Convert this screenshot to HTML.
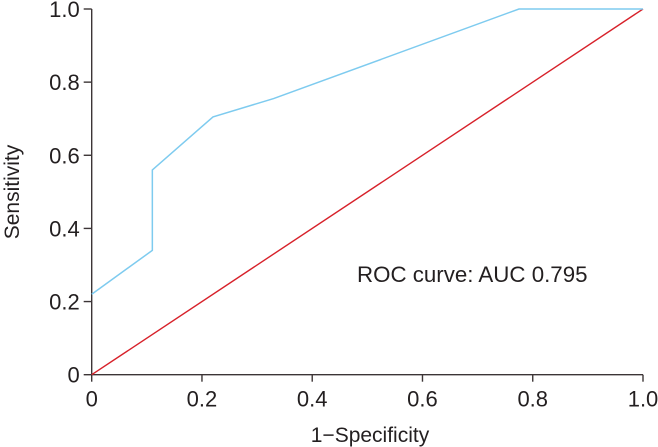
<!DOCTYPE html>
<html><head><meta charset="utf-8"><style>
body{margin:0;background:#fff;}
svg{display:block;font-family:"Liberation Sans",Arial,sans-serif;}
</style></head><body>
<svg width="658" height="447">
<g id="axes"></g>
<g id="marks"></g>
<text x="357" y="282" font-size="22.3" fill="#231f20">ROC curve: AUC 0.795</text>
<text x="370" y="442" font-size="21" fill="#231f20" text-anchor="middle">1−Specificity</text>
<text x="0" y="0" font-size="21" fill="#231f20" text-anchor="middle" transform="translate(19,192) rotate(-90)">Sensitivity</text>
</svg>
<script>
const fpr=[0,0.11,0.11,0.22,0.33,0.775,1];
const tpr=[0.22,0.34,0.56,0.705,0.755,1,1];
const refX=[0,1];
const refY=[0,1];
const xTicks=[0,0.2,0.4,0.6,0.8,1.0];
const xTickLabels=["0","0.2","0.4","0.6","0.8","1.0"];
const yTicks=[0,0.2,0.4,0.6,0.8,1.0];
const yTickLabels=["0","0.2","0.4","0.6","0.8","1.0"];
const NS="http://www.w3.org/2000/svg";
const X0=91.7,X1=643,Y0=374.7,Y1=9;
const sx=v=>X0+v*(X1-X0), sy=v=>Y0-v*(Y0-Y1);
const ax=document.getElementById('axes'), mk=document.getElementById('marks');
function mkEl(t,a,p){const e=document.createElementNS(NS,t);for(const k in a)e.setAttribute(k,a[k]);p.appendChild(e);return e;}
let e=mkEl('line',{x1:X0,y1:Y0,x2:X1,y2:Y0,stroke:'#3c3536','stroke-width':1.4},ax);


e=mkEl('line',{x1:X0,y1:Y0,x2:X0,y2:Y1,stroke:'#3c3536','stroke-width':1.4},ax);


xTicks.forEach((v,i)=>{
 let t=mkEl('line',{x1:sx(v),y1:Y0,x2:sx(v),y2:Y0+7,stroke:'#3c3536','stroke-width':1.4},ax);
 
 
 let l=mkEl('text',{x:sx(v),y:Y0+32,'font-size':22,fill:'#231f20','text-anchor':'middle'},ax);
 l.textContent=xTickLabels[i];
 
 
});
yTicks.forEach((v,i)=>{
 let t=mkEl('line',{x1:X0-8,y1:sy(v),x2:X0,y2:sy(v),stroke:'#3c3536','stroke-width':1.4},ax);
 
 
 let l=mkEl('text',{x:X0-12,y:sy(v)+8,'font-size':22,fill:'#231f20','text-anchor':'end'},ax);
 l.textContent=yTickLabels[i];
 
 
});
let p=mkEl('polyline',{points:refX.map((v,i)=>sx(v)+','+sy(refY[i])).join(' '),fill:'none',stroke:'#d7212a','stroke-width':1.4},mk);


p=mkEl('polyline',{points:fpr.map((v,i)=>sx(v)+','+sy(tpr[i])).join(' '),fill:'none',stroke:'#7ecbef','stroke-width':1.5},mk);


</script>
</body></html>
